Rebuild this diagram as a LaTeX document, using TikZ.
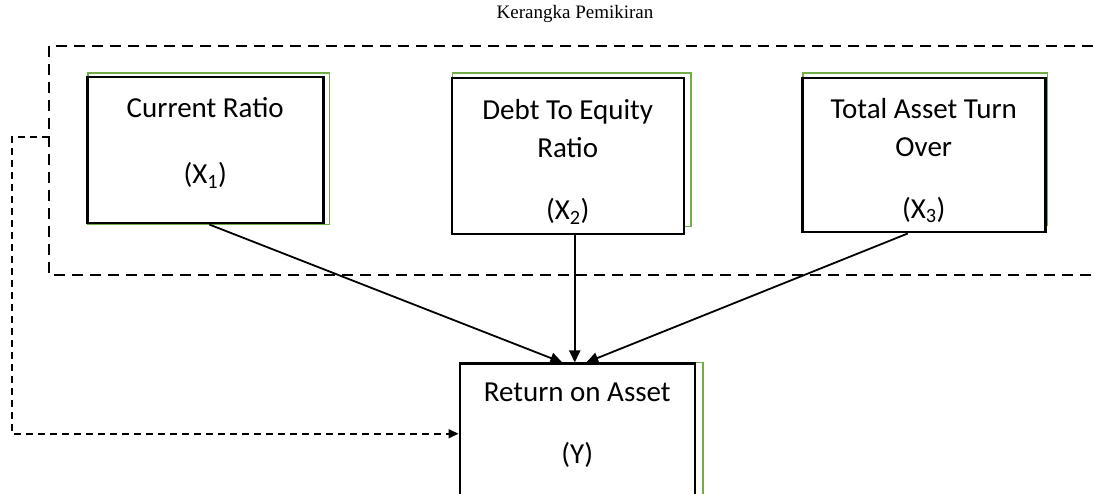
\documentclass[tikz,border=0pt]{standalone}
\usepackage{fontspec}
\setmainfont{Carlito}
\newfontfamily\titlefont{Liberation Serif}
\usetikzlibrary{arrows.meta,positioning,backgrounds}
\definecolor{shadegreen}{RGB}{112,173,71}
\newcommand{\toppad}[1]{\rule{0pt}{#1}}
\newcommand{\botpad}[1]{\rule[-#1]{0pt}{#1}}

\begin{document}
\begin{tikzpicture}[x=1pt, y=-1pt, node distance=126pt]
        \tikzstyle{box}=[draw, rectangle, line width=2.5pt, fill=white, align=center, inner sep=0pt, font=\fontsize{29}{38}\selectfont]
        \tikzstyle{shade}=[draw=shadegreen, line width=1.5pt]
        \tikzstyle{link}=[-{Triangle[length=12pt,width=11pt]}, line width=1.8pt]
        \tikzstyle{frame}=[dash pattern=on 11pt off 7pt, line width=2pt]
        \tikzstyle{feedback}=[-{Triangle[length=10pt,width=9pt]}, dash pattern=on 7pt off 5pt, line width=1.8pt]

        \useasboundingbox (0,0) rectangle (1093,494);

        \node[font=\titlefont\fontsize{19}{22}\selectfont] (title) at (575,14) {Kerangka Pemikiran};

        \node[box, minimum width=236pt, minimum height=146pt, anchor=north west] (cr) at (86,76) {Current Ratio\\[28pt](X\textsubscript{1})\botpad{19pt}};
        \node[box, minimum width=232pt, minimum height=156pt] (dr) [right=of cr.north east, anchor=north west, yshift=-1pt] {\toppad{31pt}Debt To Equity\\Ratio\\[24pt](X\textsubscript{2})};
        \node[box, minimum width=243pt, minimum height=154pt] (ta) [right=116pt of dr.north east, anchor=north west] {\toppad{31pt}Total Asset Turn\\Over\\[24pt](X\textsubscript{3})};
        \node[box, minimum width=235pt, minimum height=131pt] (ro) [below=127pt of dr.south, xshift=9.5pt] {Return on Asset\\[24pt](Y)\botpad{13pt}};

        % green edges behind the boxes
        \begin{scope}[on background layer]
        \draw[shade] ([shift={(2,-3)}]cr.north west) rectangle ([shift={(5,0)}]cr.south east);
        \draw[shade] ([shift={(2,-4)}]dr.north west) rectangle ([shift={(6,-9)}]dr.south east);
        \draw[shade] ([shift={(2,-4)}]ta.north west) rectangle ([shift={(1,-8)}]ta.south east);
        \draw[shade] ([shift={(2,0)}]ro.north west) rectangle ([shift={(7,2)}]ro.south east);
        \end{scope}

        % open dashed frame
        \draw[frame] (1093,46) -- (49,46) -- (49,275) -- (1093,275);
        \coordinate (fb) at (49,137);

        \draw[link] ([xshift=4pt]cr.south) -- ([xshift=-15pt]ro.north);
        \draw[link] ([xshift=7pt]dr.south) -- ([xshift=-2.5pt]ro.north);
        \draw[link] ([xshift=-16pt]ta.south) -- ([xshift=9pt]ro.north);

        \draw[feedback] (fb) -- ++(-37,0) |- ([yshift=-4.5pt]ro.west);

    \end{tikzpicture}
\end{document}
